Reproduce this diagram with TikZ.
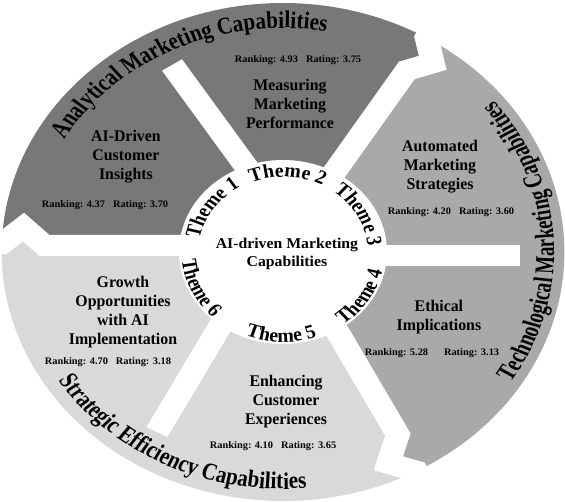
\documentclass[tikz,border=0pt]{standalone}
\usepackage{fontspec}
\setmainfont{Liberation Serif}
\newfontfamily\ringfamily[FakeStretch=0.78]{Liberation Serif}
\newfontfamily\secfamily[FakeStretch=0.86]{Liberation Serif}
\newfontfamily\thmfamily[FakeStretch=0.9]{Liberation Serif}
\newfontfamily\hubfamily[FakeStretch=0.93]{Liberation Serif}
\newfontfamily\rankfamily[FakeStretch=0.92]{Liberation Serif}
\usetikzlibrary{decorations.text}
\definecolor{darkg}{HTML}{787878}
\definecolor{midg}{HTML}{A9A9A9}
\definecolor{lightg}{HTML}{D9D9D9}
\newcommand{\thmfnt}{\thmfamily\fontsize{19.5}{19.5}\selectfont\bfseries}
\newcommand{\ringfnt}{\ringfamily\fontsize{24}{24}\selectfont\bfseries}
\begin{document}
\begin{tikzpicture}[x=1pt,y=1pt,
  gap/.style={white, line width=21pt, line join=miter, line cap=butt},
  sectortext/.style={align=center, font=\secfamily\fontsize{16.3}{19}\selectfont\bfseries, text=black, inner sep=0pt},
  ranktext/.style={font=\rankfamily\fontsize{10}{11}\selectfont\bfseries, text=black, inner sep=0pt},
  centertext/.style={align=center, font=\hubfamily\fontsize{15}{18}\selectfont\bfseries, text=black, inner sep=0pt},
]
\useasboundingbox (0,0) rectangle (565,502);
\begin{scope}[transform canvas={xscale=1.13}]
\begin{scope}[shift={(250.44,250)}]
% gap polylines (model coordinates)
\coordinate (A0) at (38,68);
\coordinate (A1) at (58.9:212);
\coordinate (A2) at (55:231);
\coordinate (A3) at (59.3:249);
\coordinate (A4) at (59.3:285);
\coordinate (B0) at (41,-66);
\coordinate (B1) at (299.1:209);
\coordinate (B2) at (293.8:231);
\coordinate (B3) at (-61.7:249);
\coordinate (B4) at (-61.7:285);
\coordinate (C0) at (-60,6.5);
\coordinate (C1) at (-211,6.5);
\coordinate (C2) at (173.8:231);
\coordinate (C3) at (178.1:249);
\coordinate (C4) at (178.1:285);
% coloured arrows
\fill[darkg] (0,0) -- (C0) -- (C1) -- (C2) -- (C3) arc[start angle=178.1, end angle=59.3, radius=249] -- (A2) -- (A1) -- (A0) -- cycle;
\fill[midg] (0,0) -- (A0) -- (A1) -- (A2) -- (A3) arc[start angle=59.3, end angle=-61.7, radius=249] -- (B2) -- (B1) -- (B0) -- cycle;
\fill[lightg] (0,0) -- (B0) -- (B1) -- (B2) -- (B3) arc[start angle=-61.7, end angle=-181.9, radius=249] -- (C2) -- (C1) -- (C0) -- cycle;
% white gaps
\draw[gap] (A0) -- (A1) -- (A2) -- (A3) -- (A4);
\draw[gap] (B0) -- (B1) -- (B2) -- (B3) -- (B4);
\draw[gap] (C0) -- (C1) -- (C2) -- (C3) -- (C4);
\coordinate (S1a) at (60,-4);
\coordinate (S1b) at (210,-4);
\coordinate (S3a) at (-20.7,67);
\coordinate (S3b) at (-98.2,187);
\coordinate (S5a) at (-47,-57.8);
\coordinate (S5b) at (-111.5,-180);
\draw[gap] (S1a) -- (S1b);
\draw[gap] (S3a) -- (S3b);
\draw[gap] (S5a) -- (S5b);
% centre
\fill[white] (0,0) circle[radius=92];
\node[centertext] (hub) at (3.5,-2) {AI-driven Marketing\\Capabilities};
% theme labels
\path[decorate, decoration={text along path, text align=center, text={|\thmfnt|Theme 1}}] (180:75) arc[start angle=180, end angle=110, radius=75];
\path[decorate, decoration={text along path, text align=center, text={|\thmfnt|Theme 2}}] (122:75) arc[start angle=122, end angle=52, radius=75];
\path[decorate, decoration={text along path, text align=center, text={|\thmfnt|Theme 3}}] (64:75) arc[start angle=64, end angle=-6, radius=75];
\path[decorate, decoration={text along path, text align=center, text={|\thmfnt|Theme 4}}] (-68:90) arc[start angle=-68, end angle=2, radius=90];
\path[decorate, decoration={text along path, text align=center, text={|\thmfnt|Theme 5}}] (-126:90) arc[start angle=-126, end angle=-56, radius=90];
\path[decorate, decoration={text along path, text align=center, text={|\thmfnt|Theme 6}}] (171:90) arc[start angle=171, end angle=241, radius=90];
% ring labels
\path[decorate, decoration={text along path, text align=center, text={|\ringfnt|Analytical Marketing Capabilities}}] (172:224) arc[start angle=172, end angle=58, radius=224];
\path[decorate, decoration={text along path, text align=center, text={|\ringfnt|Technological Marketing Capabilities}}] (-55:240) arc[start angle=-55, end angle=61, radius=240];
\path[decorate, decoration={text along path, text align=center, text={|\ringfnt|Strategic Efficiency Capabilities}}] (186:237) arc[start angle=186, end angle=302, radius=237];
% sector texts
\node[sectortext] (s1) at (-139,95) {AI-Driven\\Customer\\Insights};
\node[ranktext] (r1) at (-157.5,47) {Ranking: 4.37\hspace{7pt}Rating: 3.70};
\node[sectortext] (s2) at (6.2,148) {Measuring\\Marketing\\Performance};
\node[ranktext] (r2) at (13.3,192) {Ranking: 4.93\hspace{7pt}Rating: 3.75};
\node[sectortext] (s3) at (139,85) {Automated\\Marketing\\Strategies};
\node[ranktext] (r3) at (148.7,40) {Ranking: 4.20\hspace{7pt}Rating: 3.60};
\node[sectortext] (s4) at (138,-65) {Ethical\\Implications};
\node[ranktext] (r4) at (131.9,-101) {Ranking: 5.28\hspace{14pt}Rating: 3.13};
\node[sectortext] (s5) at (2.7,-150) {Enhancing\\Customer\\Experiences};
\node[ranktext] (r5) at (-8.8,-194) {Ranking: 4.10\hspace{7pt}Rating: 3.65};
\node[sectortext] (s6) at (-141.6,-60) {Growth\\Opportunities\\with AI\\Implementation};
\node[ranktext] (r6) at (-154.9,-110) {Ranking: 4.70\hspace{7pt}Rating: 3.18};
\end{scope}
\end{scope}
\end{tikzpicture}
\end{document}
